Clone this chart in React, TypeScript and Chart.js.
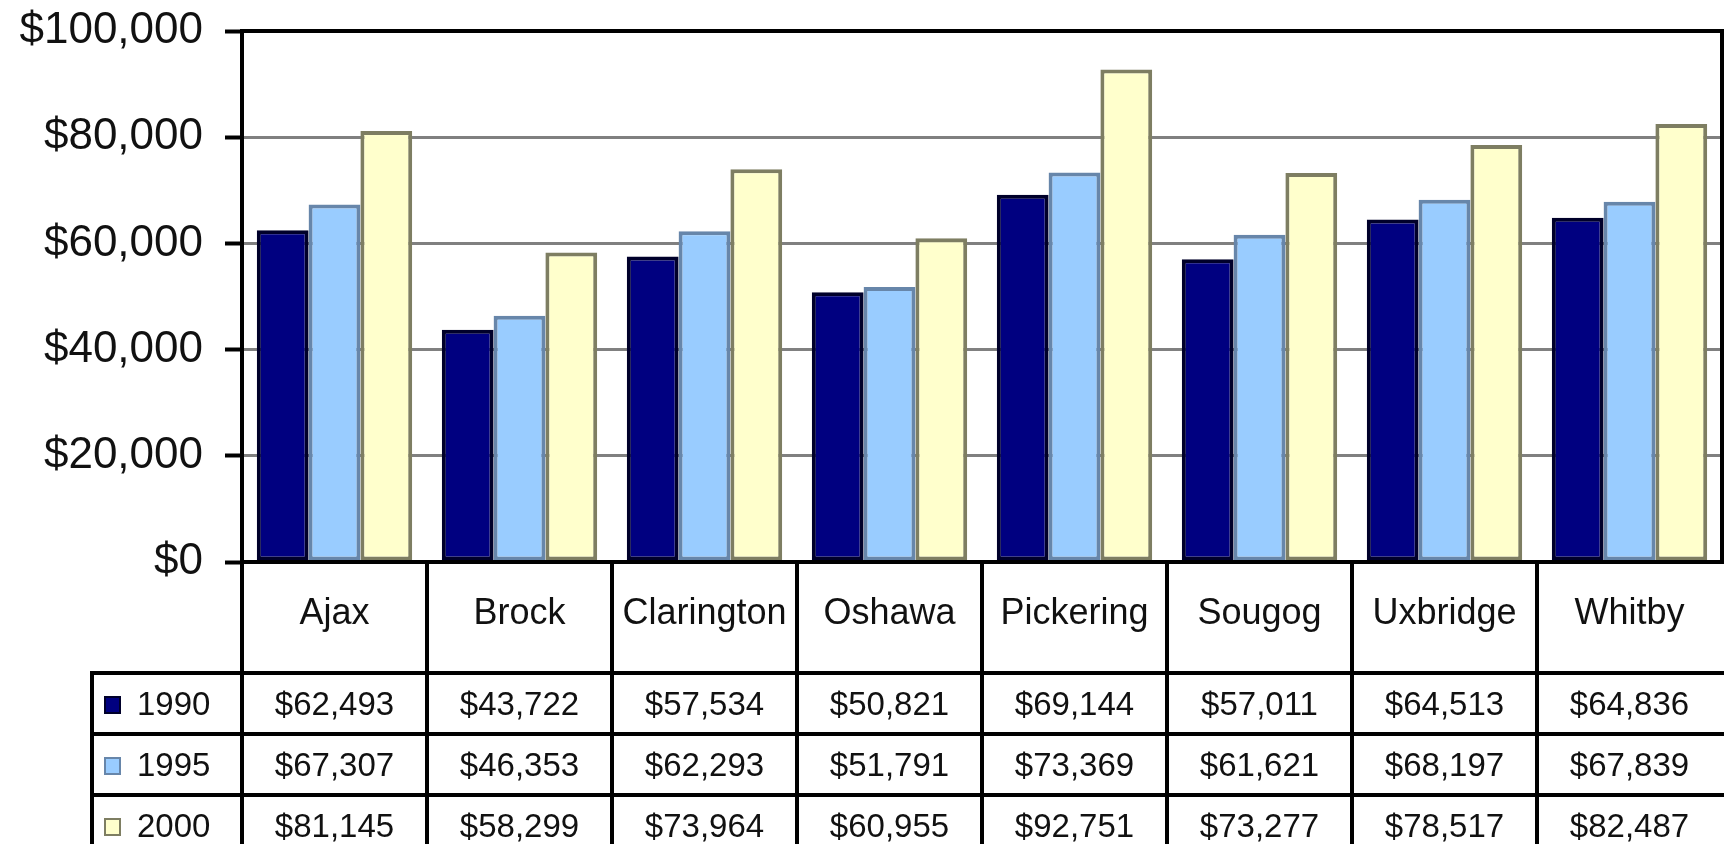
import React, { useEffect, useRef } from 'react';
import { Chart, registerables } from 'chart.js';

Chart.register(...registerables);

const categories = ['Ajax', 'Brock', 'Clarington', 'Oshawa', 'Pickering', 'Sougog', 'Uxbridge', 'Whitby'];
const seriesNames = ['1990', '1995', '2000'];
const values1990 = [62493, 43722, 57534, 50821, 69144, 57011, 64513, 64836];
const values1995 = [67307, 46353, 62293, 51791, 73369, 61621, 68197, 67839];
const values2000 = [81145, 58299, 73964, 60955, 92751, 73277, 78517, 82487];
const yTickValues = [0, 20000, 40000, 60000, 80000, 100000];

const fillColors = ['#000080', '#99CCFF', '#FFFFCC'];
const borderColors = ['#00002A', '#6786AA', '#7E7E62'];
const FONT = '"Liberation Sans", Arial, Helvetica, sans-serif';

const fmt = (v: number) => '$' + v.toLocaleString('en-US');

const W = 1724;
const H = 844;

const tablePlugin = {
  id: 'dataTable',
  afterDraw(chart: any) {
    const { ctx, chartArea, scales } = chart;
    const x = scales.x;
    const n = categories.length;
    const { left, right, top, bottom } = chartArea;
    const w = (right - left) / n;
    const tableLeft = 92;
    const catRowH = 111;
    const rowH = 61;
    const rowTops = seriesNames.map((_, i) => bottom + catRowH + i * rowH);
    const allSeries = [values1990, values1995, values2000];

    ctx.save();
    ctx.strokeStyle = '#000';
    ctx.lineWidth = 4;
    ctx.lineCap = 'square';

    const line = (x1: number, y1: number, x2: number, y2: number) => {
      ctx.beginPath();
      ctx.moveTo(x1, y1);
      ctx.lineTo(x2, y2);
      ctx.stroke();
    };

    // plot frame
    line(left, top, right, top);
    line(right, top, right, bottom);
    line(left, top, left, H);
    line(left, bottom, W, bottom);

    // category boundaries through the table
    for (let i = 1; i < n; i++) {
      const bx = Math.round(left + i * w);
      line(bx, bottom, bx, H);
    }
    // table left edge and row lines
    line(tableLeft, rowTops[0], tableLeft, H);
    rowTops.forEach((ry) => line(tableLeft, ry, W, ry));

    // category labels
    ctx.fillStyle = '#111';
    ctx.textAlign = 'center';
    ctx.textBaseline = 'middle';
    ctx.font = `36px ${FONT}`;
    categories.forEach((c, i) => {
      ctx.fillText(c, x.getPixelForValue(i), bottom + 52);
    });

    // series rows
    ctx.font = `33px ${FONT}`;
    allSeries.forEach((vals, si) => {
      const cy = rowTops[si] + 33;
      // legend swatch
      ctx.fillStyle = fillColors[si];
      ctx.fillRect(105, cy - 9, 15, 16);
      ctx.lineWidth = 2;
      ctx.strokeStyle = borderColors[si];
      ctx.strokeRect(105, cy - 9, 15, 16);
      ctx.fillStyle = '#111';
      ctx.textAlign = 'left';
      ctx.fillText(seriesNames[si], 137, cy);
      ctx.textAlign = 'center';
      vals.forEach((v, i) => {
        ctx.fillText(fmt(v), x.getPixelForValue(i), cy);
      });
    });
    ctx.restore();
  },
};

export default function App() {
  const ref = useRef<HTMLCanvasElement | null>(null);

  useEffect(() => {
    if (!ref.current) return;
    const datasetsSrc = [values1990, values1995, values2000];
    const chart = new Chart(ref.current, {
      type: 'bar',
      data: {
        labels: categories,
        datasets: datasetsSrc.map((d, i) => ({
          label: seriesNames[i],
          data: d,
          backgroundColor: fillColors[i],
          borderColor: borderColors[i],
          borderWidth: 4,
          borderSkipped: false,
          barPercentage: 1,
          categoryPercentage: 0.84,
        })),
      },
      options: {
        responsive: false,
        animation: false,
        devicePixelRatio: 1,
        layout: { padding: { top: 31, right: 2, left: 0, bottom: 0 } },
        plugins: {
          legend: { display: false },
          tooltip: { enabled: false },
          title: { display: false },
        },
        scales: {
          x: {
            type: 'category',
            offset: true,
            grid: { display: false },
            border: { display: false },
            ticks: { display: false },
            afterFit: (s: any) => {
              s.height = 282;
              s.paddingLeft = 0;
              s.paddingRight = 0;
            },
          },
          y: {
            min: 0,
            max: 100000,
            afterBuildTicks: (s: any) => {
              s.ticks = yTickValues.map((v) => ({ value: v }));
            },
            border: { display: false },
            grid: {
              color: (c: any) => (c.tick && (c.tick.value === 100000) ? '#000' : '#808080'),
              lineWidth: 3,
              drawTicks: true,
              tickLength: 17,
              tickWidth: 4,
              tickColor: '#000',
            },
            ticks: {
              color: '#111',
              padding: 22,
              font: { family: FONT, size: 44 },
              callback: (v: any) => fmt(Number(v)),
            },
            afterFit: (s: any) => {
              s.width = 242;
              s.paddingTop = 0;
              s.paddingBottom = 0;
            },
          },
        },
      },
      plugins: [tablePlugin],
    });
    return () => chart.destroy();
  }, []);

  return (
    <div style={{ position: 'fixed', left: 0, top: 0, width: W, height: H, background: '#fff' }}>
      <canvas ref={ref} width={W} height={H} style={{ display: 'block' }} />
    </div>
  );
}
